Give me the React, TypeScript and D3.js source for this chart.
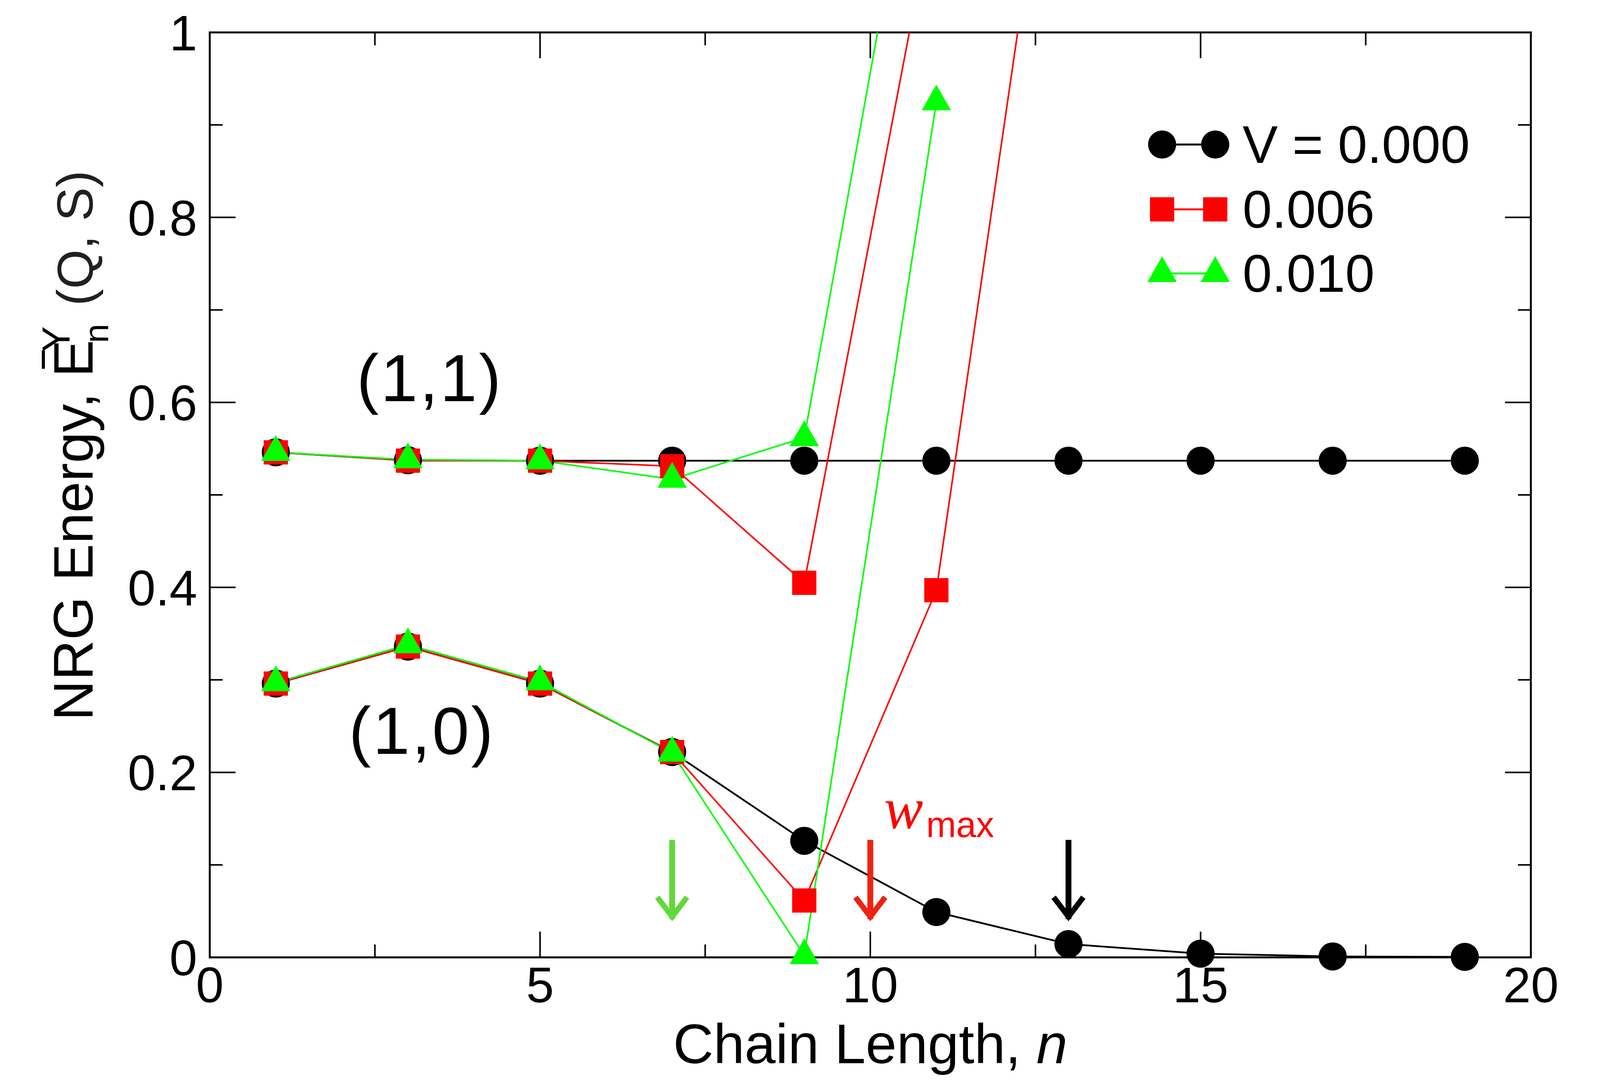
import React from 'react';
import * as d3 from 'd3';

// ---- data ----
const nOdd = [1, 3, 5, 7, 9, 11, 13, 15, 17, 19];

// V = 0.000 (black circles)
const blackUpper = [0.546, 0.5375, 0.537, 0.537, 0.537, 0.537, 0.537, 0.537, 0.537, 0.537];
const blackLower = [0.296, 0.336, 0.296, 0.222, 0.126, 0.049, 0.0144, 0.004, 0.001, 0.0005];

// V = 0.006 (red squares)
const redUpperN = [1, 3, 5, 7, 9, 11];
const redUpper = [0.546, 0.537, 0.537, 0.531, 0.405, 1.153];
const redLowerN = [1, 3, 5, 7, 9, 11, 13];
const redLower = [0.296, 0.336, 0.296, 0.222, 0.0615, 0.397, 1.377];

// V = 0.010 (green triangles)
const greenUpperN = [1, 3, 5, 7, 9, 11];
const greenUpper = [0.546, 0.538, 0.537, 0.517, 0.562, 1.351];
const greenLowerN = [1, 3, 5, 7, 9, 11];
const greenLower = [0.297, 0.338, 0.298, 0.221, 0.002, 0.925];

const legendLabels = ['V = 0.000', '0.006', '0.010'];

const xMajorTicks = [0, 5, 10, 15, 20];
const xMinorTicks = [2.5, 7.5, 12.5, 17.5];
const yMajorTicks = [0, 0.2, 0.4, 0.6, 0.8, 1];
const yMinorTicks = [0.1, 0.3, 0.5, 0.7, 0.9];

// w_max arrows
const arrowN = [7, 10, 13];
const arrowColors = ['#62d83a', '#ee2211', '#000000'];
const arrowTop = 0.127;
const arrowTip = 0.038;

const W = 4104;
const H = 2788;
const margin = { left: 537, right: W - 3919, top: 83, bottom: H - 2451 };
const FONT = '"Liberation Sans", Arial, Helvetica, sans-serif';

type Pt = { n: number; v: number };
const zip = (ns: number[], vs: number[]): Pt[] => ns.map((n, i) => ({ n, v: vs[i] }));

type Shape = 'circle' | 'square' | 'triangle';

const Marker: React.FC<{ x: number; y: number; shape: Shape; color: string }> = ({ x, y, shape, color }) => {
  if (shape === 'circle') return <circle cx={x} cy={y} r={36} fill={color} />;
  if (shape === 'square') return <rect x={x - 31} y={y - 31} width={62} height={62} fill={color} />;
  return <path d={`M${x},${y - 44}L${x - 37.5},${y + 22}L${x + 37.5},${y + 22}Z`} fill={color} />;
};

export default function App() {
  const x = d3.scaleLinear().domain([0, 20]).range([margin.left, W - margin.right]);
  const y = d3.scaleLinear().domain([0, 1]).range([H - margin.bottom, margin.top]);
  const x0 = x(0), x1 = x(20), y0 = y(0), y1 = y(1);

  const line = d3.line<Pt>().x(d => x(d.n)).y(d => y(d.v));

  const series = [
    { color: '#000000', shape: 'circle' as Shape, width: 4.5, parts: [zip(nOdd, blackUpper), zip(nOdd, blackLower)] },
    { color: '#ff0000', shape: 'square' as Shape, width: 4, parts: [zip(redUpperN, redUpper), zip(redLowerN, redLower)] },
    { color: '#00ff00', shape: 'triangle' as Shape, width: 4, parts: [zip(greenUpperN, greenUpper), zip(greenLowerN, greenLower)] },
  ];

  const yFmt = (d: number) => (d === 0 || d === 1 ? String(d) : d.toFixed(1));

  const legendRows = [370, 536, 700];

  return (
    <svg width={W} height={H} style={{ position: 'absolute', left: 0, top: 0, background: '#fff' }}>
      <defs>
        <clipPath id="plot-clip">
          <rect x={x0} y={y1} width={x1 - x0} height={y0 - y1} />
        </clipPath>
      </defs>

      {/* frame */}
      <rect x={x0} y={y1} width={x1 - x0} height={y0 - y1} fill="none" stroke="#000" strokeWidth={5} />

      {/* ticks, all four sides, pointing inward */}
      <g stroke="#000" strokeWidth={4}>
        {xMajorTicks.map(t => (
          <g key={`xm${t}`}>
            <line x1={x(t)} x2={x(t)} y1={y0} y2={y0 - 66} />
            <line x1={x(t)} x2={x(t)} y1={y1} y2={y1 + 66} />
          </g>
        ))}
        {xMinorTicks.map(t => (
          <g key={`xn${t}`}>
            <line x1={x(t)} x2={x(t)} y1={y0} y2={y0 - 33} />
            <line x1={x(t)} x2={x(t)} y1={y1} y2={y1 + 33} />
          </g>
        ))}
        {yMajorTicks.map(t => (
          <g key={`ym${t}`}>
            <line x1={x0} x2={x0 + 66} y1={y(t)} y2={y(t)} />
            <line x1={x1} x2={x1 - 66} y1={y(t)} y2={y(t)} />
          </g>
        ))}
        {yMinorTicks.map(t => (
          <g key={`yn${t}`}>
            <line x1={x0} x2={x0 + 33} y1={y(t)} y2={y(t)} />
            <line x1={x1} x2={x1 - 33} y1={y(t)} y2={y(t)} />
          </g>
        ))}
      </g>

      {/* tick labels */}
      <g fontFamily={FONT} fontSize={128} fill="#000">
        {xMajorTicks.map(t => (
          <text key={`xl${t}`} x={x(t)} y={y0 + 115} textAnchor="middle">{t}</text>
        ))}
        {yMajorTicks.map(t => (
          <text key={`yl${t}`} x={x0 - 32} y={y(t) + 46} textAnchor="end">{yFmt(t)}</text>
        ))}
      </g>

      {/* axis titles */}
      <text x={(x0 + x1) / 2} y={2722} textAnchor="middle" fontFamily={FONT} fontSize={143}>
        Chain Length, <tspan fontStyle="italic">n</tspan>
      </text>
      <g fontFamily={FONT}>
        <text transform="translate(237,1845) rotate(-90)" fontSize={143}>NRG Energy, E</text>
        <line x1={111} x2={111} y1={944} y2={897} stroke="#000" strokeWidth={8} />
        <text transform="translate(178,902) rotate(-90)" fontSize={100}>Y</text>
        <text transform="translate(277,878) rotate(-90)" fontSize={88}>n</text>
        <text transform="translate(237,783) rotate(-90)" fontSize={130} fill="#231f20">(Q, S)</text>
      </g>

      {/* data lines */}
      <g clipPath="url(#plot-clip)" fill="none">
        {series.map((s, i) =>
          s.parts.map((p, j) => (
            <path key={`l${i}-${j}`} d={line(p) || ''} stroke={s.color} strokeWidth={s.width} strokeLinejoin="round" />
          ))
        )}
      </g>

      {/* markers, drawn per series so later series sit on top */}
      {series.map((s, i) => (
        <g key={`m${i}`}>
          {s.parts.flat().filter(d => d.v <= 1).map((d, k) => (
            <Marker key={k} x={x(d.n)} y={y(d.v)} shape={s.shape} color={s.color} />
          ))}
        </g>
      ))}

      {/* state labels */}
      <text x={913} y={1027} fontFamily={FONT} fontSize={170} letterSpacing={5}>(1,1)</text>
      <text x={893} y={1930} fontFamily={FONT} fontSize={170} letterSpacing={5}>(1,0)</text>

      {/* arrows */}
      {arrowN.map((n, i) => {
        const ax = x(n);
        const top = y(arrowTop);
        const tip = y(arrowTip);
        return (
          <g key={`a${n}`} stroke={arrowColors[i]} fill="none" strokeWidth={15}>
            <line x1={ax} x2={ax} y1={top} y2={tip - 8} />
            <path d={`M${ax - 38},${tip - 64}L${ax},${tip - 14}L${ax + 38},${tip - 64}`} strokeWidth={14} strokeLinejoin="miter" strokeMiterlimit={10} />
          </g>
        );
      })}
      <text x={2263} y={2121} fill="#ff0000" fontFamily='"Liberation Serif", "DejaVu Serif", serif' fontStyle="italic" fontSize={150}>w</text>
      <text x={2371} y={2143} fill="#ff0000" fontFamily={FONT} fontSize={92}>max</text>

      {/* legend */}
      {series.map((s, i) => (
        <g key={`lg${i}`}>
          <line x1={2975} x2={3111} y1={legendRows[i]} y2={legendRows[i]} stroke={s.color} strokeWidth={5} />
          <Marker x={2975} y={legendRows[i]} shape={s.shape} color={s.color} />
          <Marker x={3111} y={legendRows[i]} shape={s.shape} color={s.color} />
          <text x={3181} y={legendRows[i] + 47} fontFamily={FONT} fontSize={135}>{legendLabels[i]}</text>
        </g>
      ))}
    </svg>
  );
}
